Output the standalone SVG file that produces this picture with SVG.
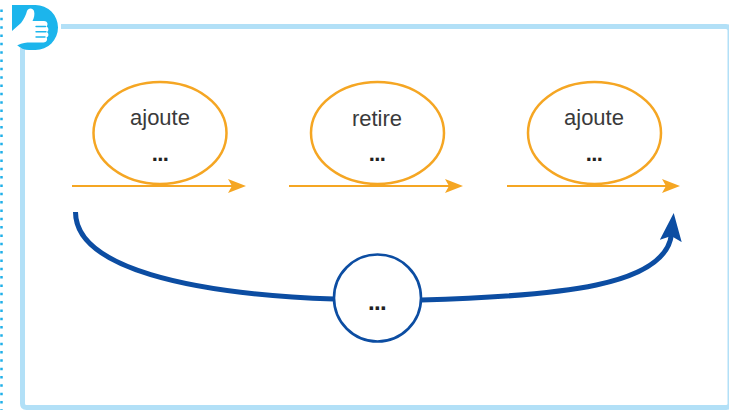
<svg xmlns="http://www.w3.org/2000/svg" width="729" height="410" viewBox="0 0 729 410">
  <style>
    .oval { fill: #ffffff; stroke: #f5a623; stroke-width: 2.5; }
    .oline { fill: none; stroke: #f5a623; stroke-width: 2.2; }
    .bline { fill: none; stroke: #0c4da2; stroke-width: 5; }
    .word { font-family: "Liberation Sans", Arial, sans-serif; font-size: 22px; fill: #3a3a3a; text-anchor: middle; }
    .dots { font-family: "Liberation Sans", Arial, sans-serif; font-size: 22px; font-weight: bold; fill: #222222; text-anchor: middle; letter-spacing: -0.6px; }
    .dots-lg { font-size: 24px; }
  </style>
  <defs>
    <marker id="arrO" markerUnits="userSpaceOnUse" viewBox="0 0 18 14" refX="8" refY="7" markerWidth="18" markerHeight="14" orient="auto">
      <path d="M0,0 L18,7 L0,14 L4,7 Z" fill="#f5a623"/>
    </marker>
    <marker id="arrB" markerUnits="userSpaceOnUse" viewBox="0 0 28 22" refX="7" refY="11" markerWidth="28" markerHeight="22" orient="auto">
      <path d="M0,0 L28,11 L0,22 L5,11 Z" fill="#0c4da2"/>
    </marker>
  </defs>

  <rect width="729" height="410" fill="#ffffff"/>

  <g id="frame">
    <line x1="1.5" y1="9.5" x2="1.5" y2="410" stroke="#1fb0e9" stroke-width="2.5" stroke-dasharray="2.5 5.83"/>
    <path d="M61,26.5 H726 Q730,26.5 730,30.5 V404 Q730,407.5 726,407.5 H26.5 Q22.5,407.5 22.5,403.5 V48" fill="none" stroke="#b2e0f7" stroke-width="5"/>
  </g>

  <g id="icon">
    <path d="M12,5 H35.5 A22.5,22.5 0 0 1 35.5,50 H29 A17,17 0 0 1 12,33 Z" fill="#1cb5ec"/>
    <path d="M12,31 L21,23 C24,19 26,15 27,11 C28,7.5 33,7.5 34,11 C35,14.5 34,18 32.5,21 L44,21 C47.5,21 48.5,24.5 46.5,26.5 C49,27.5 49,31 47,32 C49,33.5 49,36.5 46.5,37.5 C48,39.5 46.5,42.5 43.5,42.5 L31,42.5 C26,42.5 22,43 18,45 L12,47 Z" fill="#ffffff"/>
    <g stroke="#1cb5ec" stroke-width="1.4" fill="none" stroke-linecap="round">
      <path d="M36,26.5 H45.5"/>
      <path d="M36,31.8 H46"/>
      <path d="M36,37 H45"/>
    </g>
  </g>

  <g id="connectors">
    <line class="oline" x1="72" y1="186" x2="236" y2="186" marker-end="url(#arrO)"/>
    <line class="oline" x1="289" y1="186" x2="453" y2="186" marker-end="url(#arrO)"/>
    <line class="oline" x1="507" y1="186" x2="670" y2="186" marker-end="url(#arrO)"/>
    <path class="bline" d="M75.5,212 C75.5,268 190,294 334,299"/>
    <path class="bline" d="M421,300 C560,296 666,286 671.5,234" marker-end="url(#arrB)"/>
  </g>

  <g id="node-ajoute-1">
    <ellipse class="oval" cx="160" cy="133" rx="66.5" ry="51"/>
    <text class="word" x="160" y="125">ajoute</text>
    <text class="dots" x="160" y="161">...</text>
  </g>

  <g id="node-retire">
    <ellipse class="oval" cx="377.5" cy="133" rx="66.5" ry="51"/>
    <text class="word" x="377" y="126">retire</text>
    <text class="dots" x="377" y="161">...</text>
  </g>

  <g id="node-ajoute-2">
    <ellipse class="oval" cx="594.5" cy="133" rx="66.5" ry="51"/>
    <text class="word" x="594" y="125">ajoute</text>
    <text class="dots" x="594" y="161">...</text>
  </g>

  <g id="node-circle">
    <circle cx="377.5" cy="298" r="43.5" fill="#ffffff" stroke="#0c4da2" stroke-width="2.6"/>
    <text class="dots dots-lg" x="377" y="310">...</text>
  </g>
</svg>
